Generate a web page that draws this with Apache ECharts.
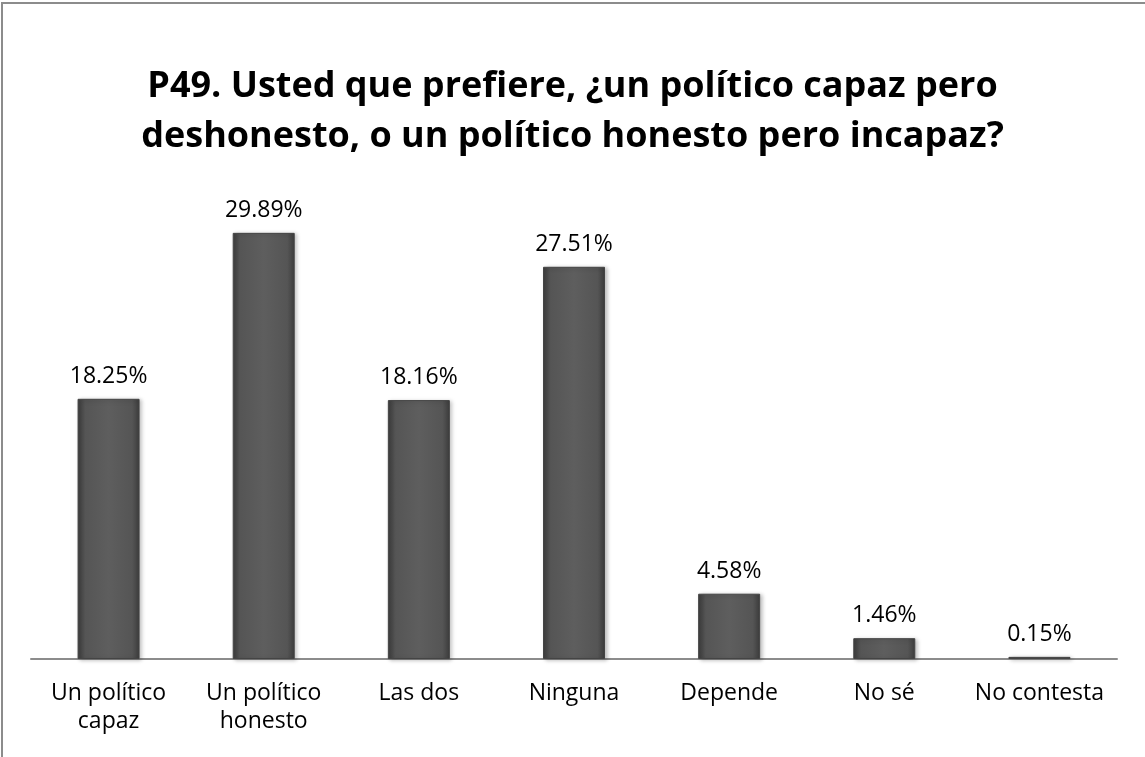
<!DOCTYPE html>
<html><head><meta charset="utf-8">
<script src="https://cdn.jsdelivr.net/npm/echarts@6/dist/echarts.min.js"></script>
<style>
html,body{margin:0;padding:0;background:#fff;}
#frame{position:absolute;left:1px;top:2px;width:1160px;height:800px;border-left:2px solid #8c8c8c;border-top:2px solid #8c8c8c;box-sizing:border-box;}
#c{position:absolute;left:0;top:0;width:1145px;height:757px;}
</style></head>
<body>
<div id="frame"></div>
<div id="c"></div>
<script>
const titleText = 'P49. Usted que prefiere, ¿un político capaz pero\ndeshonesto, o un político honesto pero incapaz?';
const categories = ['Un político\ncapaz', 'Un político\nhonesto', 'Las dos', 'Ninguna', 'Depende', 'No sé', 'No contesta'];
const values = [18.25, 29.89, 18.16, 27.51, 4.58, 1.46, 0.15];

const chart = echarts.init(document.getElementById('c'), null, {renderer: 'canvas'});
const font = '"Open Sans", "Noto Sans", sans-serif';
chart.setOption({
  backgroundColor: 'transparent',
  animation: false,
  title: {
    text: titleText,
    left: 'center',
    top: 57,
    textStyle: {fontFamily: font, fontWeight: 'bold', fontSize: 36, lineHeight: 50, color: '#000'}
  },
  grid: {left: 31, right: 28, top: 160, bottom: 98},
  xAxis: {
    type: 'category',
    data: categories,
    axisLine: {lineStyle: {color: '#8c8c8c', width: 2}},
    axisTick: {show: false},
    axisLabel: {fontFamily: font, fontSize: 23, color: '#000', margin: 20, lineHeight: 28, interval: 0}
  },
  yAxis: {
    type: 'value', min: 0, max: 35,
    show: false,
    splitLine: {show: false}
  },
  series: [{
    type: 'bar',
    data: values,
    barWidth: 62,
    itemStyle: {
      color: new echarts.graphic.LinearGradient(0, 0, 1, 0, [
        {offset: 0, color: '#3c3c3c'},
        {offset: 0.12, color: '#555555'},
        {offset: 0.5, color: '#5e5e5e'},
        {offset: 0.88, color: '#555555'},
        {offset: 1, color: '#3c3c3c'}
      ]),
      borderColor: '#444',
      borderWidth: 1,
      shadowColor: 'rgba(0,0,0,0.25)',
      shadowBlur: 4,
      shadowOffsetX: 2,
      shadowOffsetY: 1
    },
    label: {
      show: true, position: 'top', distance: 11,
      formatter: p => p.value.toFixed(2) + '%',
      fontFamily: font, fontSize: 23, color: '#000'
    }
  }]
});
</script>
</body></html>
